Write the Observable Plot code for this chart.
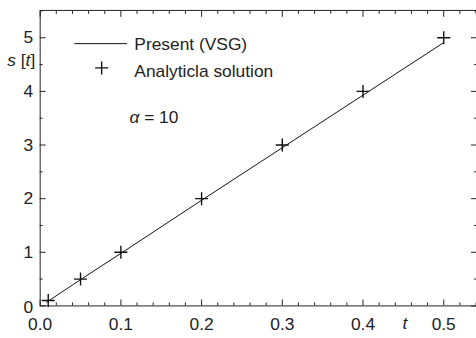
<!DOCTYPE html>
<html>
<head>
<meta charset="utf-8">
<script src="https://cdn.jsdelivr.net/npm/d3@7"></script>
<script src="https://cdn.jsdelivr.net/npm/@observablehq/plot@0.6"></script>
<style>
  html, body { margin: 0; padding: 0; background: #fff; overflow: hidden; }
  #chart { width: 476px; height: 338px; overflow: hidden; }
</style>
</head>
<body>
<div id="chart"></div>
<script>
// Analytical solution (markers)
const tAnalytic = [0.01, 0.05, 0.1, 0.2, 0.3, 0.4, 0.5];
const sAnalytic = [0.1, 0.5, 1.0, 2.0, 3.0, 4.0, 5.0];
// Present (VSG) solution (line)
const tVSG = [0.008, 0.05, 0.1, 0.2, 0.3, 0.4, 0.5];
const sVSG = [0.07, 0.49, 0.98, 1.97, 2.95, 3.93, 4.91];
// Ticks
const xMajor = [0, 0.1, 0.2, 0.3, 0.4, 0.5];
const xMajorLabels = ["0.0", "0.1", "0.2", "0.3", "0.4", "0.5"];
const xMinor = [0.02, 0.04, 0.06, 0.08, 0.12, 0.14, 0.16, 0.18, 0.22, 0.24, 0.26, 0.28,
                0.32, 0.34, 0.36, 0.38, 0.42, 0.44, 0.46, 0.48, 0.52, 0.54];
const yMajor = [0, 1, 2, 3, 4, 5];
const yMinor = [0.5, 1.5, 2.5, 3.5, 4.5, 5.5];
const legendLabels = ["Present (VSG)", "Analyticla solution"];
const alphaLabel = ["α", " = 10"];

const analytic = tAnalytic.map((t, i) => ({t, s: sAnalytic[i]}));
const vsg = tVSG.map((t, i) => ({t, s: sVSG[i]}));

const font = "Liberation Sans, Arial, Helvetica, sans-serif";

const plot = Plot.plot({
  width: 480,
  height: 338,
  marginLeft: 40,
  marginRight: 0,
  marginTop: 10,
  marginBottom: 30,
  style: {fontFamily: font, fontSize: "17.5px", color: "#222", background: "#fff"},
  x: {domain: [0, 0.5406], axis: null},
  y: {domain: [0, 5.51], axis: null},
  marks: [
    Plot.frame({stroke: "#222", strokeWidth: 1}),
    // inward tick marks, all four sides
    Plot.axisX({anchor: "bottom", ticks: xMajor, tickSize: -6, tickFormat: () => "", label: null, stroke: "#222"}),
    Plot.axisX({anchor: "bottom", ticks: xMinor, tickSize: -3, tickFormat: () => "", label: null, stroke: "#222"}),
    Plot.axisX({anchor: "top", ticks: xMajor, tickSize: -6, tickFormat: () => "", label: null, stroke: "#222"}),
    Plot.axisX({anchor: "top", ticks: xMinor, tickSize: -3, tickFormat: () => "", label: null, stroke: "#222"}),
    Plot.axisY({anchor: "left", ticks: yMajor, tickSize: -6, tickFormat: () => "", label: null, stroke: "#222"}),
    Plot.axisY({anchor: "left", ticks: yMinor, tickSize: -3, tickFormat: () => "", label: null, stroke: "#222"}),
    Plot.axisY({anchor: "right", ticks: yMajor, tickSize: -6, tickFormat: () => "", label: null, stroke: "#222"}),
    Plot.axisY({anchor: "right", ticks: yMinor, tickSize: -3, tickFormat: () => "", label: null, stroke: "#222"}),
    // tick labels
    Plot.axisX({anchor: "bottom", ticks: xMajor, tickSize: 0, tickPadding: 12,
      tickFormat: (d) => xMajorLabels[xMajor.indexOf(d)], label: null, fill: "#222"}),
    Plot.axisY({anchor: "left", ticks: yMajor.slice(1), tickSize: 0, tickPadding: 7, tickFormat: (d) => String(d), label: null, fill: "#222"}),
    Plot.axisY({anchor: "left", ticks: yMajor.slice(0, 1), tickSize: 0, tickPadding: 7, dy: 2, tickFormat: (d) => String(d), label: null, fill: "#222"}),
    // axis titles
    Plot.text(["t"], {x: [0.452], frameAnchor: "bottom", dy: 18, lineAnchor: "middle", fontStyle: "italic", fill: "#222", fontSize: 17.5, className: "xlab"}),
    Plot.text(["s [t]"], {y: [4.57], frameAnchor: "left", dx: -5, textAnchor: "end", lineAnchor: "middle", fill: "#222", fontSize: 17.5, className: "ylab"}),
    // data
    Plot.line(vsg, {x: "t", y: "s", stroke: "#111", strokeWidth: 1}),
    Plot.dot(analytic, {x: "t", y: "s", symbol: "plus", r: 4.3, stroke: "#111", strokeWidth: 1.4}),
    // legend
    Plot.text([legendLabels[0]], {frameAnchor: "top-left", dx: 95, dy: 34, textAnchor: "start", lineAnchor: "middle", fill: "#222", fontSize: 17.5}),
    Plot.text([legendLabels[1]], {frameAnchor: "top-left", dx: 95, dy: 61.5, textAnchor: "start", lineAnchor: "middle", fill: "#222", fontSize: 17.5}),
    Plot.dot([0], {frameAnchor: "top-left", dx: 62, dy: 58, symbol: "plus", r: 4.3, stroke: "#111", strokeWidth: 1.4}),
    Plot.text([alphaLabel.join("")], {frameAnchor: "top-left", dx: 90, dy: 108, textAnchor: "start", lineAnchor: "middle", fill: "#222", fontSize: 17.5, className: "alab"})
  ]
});

// legend line sample
const svg = d3.select(plot);
svg.append("line")
  .attr("x1", 75).attr("x2", 128).attr("y1", 44).attr("y2", 44)
  .attr("stroke", "#111").attr("stroke-width", 1);

// mixed styles inside labels
const ylab = svg.select("g.ylab text");
if (!ylab.empty()) {
  ylab.text("");
  ylab.append("tspan").attr("font-style", "italic").text("s");
  ylab.append("tspan").text(" [");
  ylab.append("tspan").attr("font-style", "italic").text("t");
  ylab.append("tspan").text("]");
}
const alab = svg.select("g.alab text");
if (!alab.empty()) {
  alab.text("");
  alab.append("tspan").attr("font-style", "italic").text(alphaLabel[0]);
  alab.append("tspan").text(alphaLabel[1]);
}

document.getElementById("chart").appendChild(plot);
</script>
</body>
</html>
